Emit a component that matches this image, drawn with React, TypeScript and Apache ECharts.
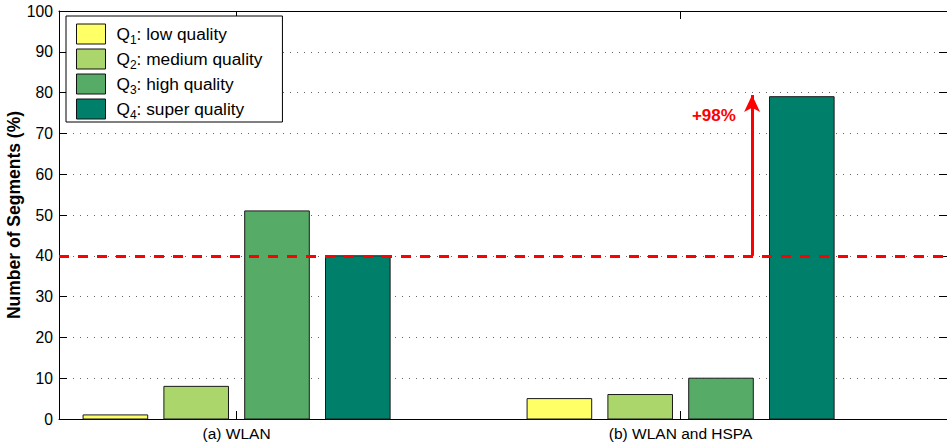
import React, { useEffect, useRef } from "react";
import * as echarts from "echarts";

// ---- data ----
const categories = ["(a) WLAN", "(b) WLAN and HSPA"];
const categoryPos = [1, 2];
const qualityIds = ["1", "2", "3", "4"];
const qualityNames = ["low quality", "medium quality", "high quality", "super quality"];
const q1Values = [1, 5];
const q2Values = [8, 6];
const q3Values = [51, 10];
const q4Values = [40, 79];
const seriesValues = [q1Values, q2Values, q3Values, q4Values];
const yTicks = [0, 10, 20, 30, 40, 50, 60, 70, 80, 90, 100];
const referenceLevel = 40;
const arrowTop = 79.4;
const arrowX = 2.161;
const gainText = "+98%";
const gainLabelPos = [2.075, 74.5];

// ---- styles ----
const colors = ["#FFFF66", "#ABD66B", "#56AB67", "#00806A"];
const FONT = "'Liberation Sans', Arial, sans-serif";
const GROUP_SPACING = 0.182;
const BAR_W = 0.1455;

export default function App() {
  const ref = useRef<HTMLDivElement>(null);
  useEffect(() => {
    if (!ref.current) return;
    const chart = echarts.init(ref.current, null, { renderer: "svg" });
    const names = qualityIds.map((id, i) => `Q${id}: ${qualityNames[i]}`);

    const barSeries = seriesValues.map((vals, si) => ({
      type: "custom",
      name: names[si],
      xAxisIndex: 0,
      yAxisIndex: 0,
      itemStyle: { color: colors[si], borderColor: "#111", borderWidth: 1 },
      encode: { x: 0, y: 1 },
      data: vals.map((v, gi) => [categoryPos[gi], v]),
      renderItem: (params: any, api: any) => {
        const g = api.value(0);
        const v = api.value(1);
        const xc = g + (si - 1.5) * GROUP_SPACING;
        const p0 = api.coord([xc - BAR_W / 2, v]);
        const p1 = api.coord([xc + BAR_W / 2, 0]);
        return {
          type: "rect",
          shape: { x: p0[0], y: p0[1], width: p1[0] - p0[0], height: p1[1] - p0[1] },
          style: { fill: colors[si], stroke: "#1a1a1a", lineWidth: 1 },
        };
      },
    }));

    const option: any = {
      animation: false,
      textStyle: { fontFamily: FONT },
      grid: {
        left: 59,
        right: 0,
        top: 11,
        bottom: 25,
        containLabel: false,
        outerBoundsMode: "none",
      },
      legend: {
        orient: "vertical",
        left: 66,
        top: 16,
        padding: [6, 8, 1, 10],
        backgroundColor: "#fff",
        borderColor: "#000",
        borderWidth: 1,
        itemWidth: 29,
        itemHeight: 20,
        itemGap: 1,
        icon: "rect",
        data: names.map((n, i) => ({
          name: n,
          itemStyle: { color: colors[i], borderColor: "#111", borderWidth: 1 },
        })),
        formatter: (name: string) => {
          const m = name.match(/^Q(\d+): (.*)$/);
          if (!m) return name;
          return `{q|Q}{s|${m[1]}}{n|: ${m[2]}}`;
        },
        textStyle: {
          fontFamily: FONT,
          color: "#000",
          lineHeight: 24,
          rich: {
            q: { fontSize: 17.3, fontFamily: FONT, color: "#000", padding: [0, 0, 0, 6], lineHeight: 24 },
            s: { fontSize: 12, fontFamily: FONT, color: "#000", padding: [12, 0, 0, 0], lineHeight: 12 },
            n: { fontSize: 17.3, fontFamily: FONT, color: "#000", lineHeight: 24, padding: [0, 12, 0, 0] },
          },
        },
      },
      xAxis: [
        {
          type: "value",
          min: 0.6,
          max: 2.6,
          position: "bottom",
          axisLine: { show: true, lineStyle: { color: "#000", width: 1 } },
          axisTick: { show: true, inside: true, length: 8, customValues: categoryPos, lineStyle: { color: "#000" } },
          axisLabel: {
            show: true,
            customValues: categoryPos,
            margin: 6,
            fontSize: 15.5,
            fontFamily: FONT,
            color: "#000",
            formatter: (v: number) => categories[Math.round(v) - 1] ?? "",
          },
          splitLine: { show: false },
        },
        {
          type: "value",
          min: 0.6,
          max: 2.6,
          position: "top",
          axisLine: { show: true, onZero: false, lineStyle: { color: "#000", width: 1 } },
          axisTick: { show: true, inside: true, length: 8, customValues: categoryPos, lineStyle: { color: "#000" } },
          axisLabel: { show: false },
          splitLine: { show: false },
        },
      ],
      yAxis: [
        {
          type: "value",
          min: 0,
          max: 100,
          interval: 10,
          position: "left",
          name: "Number of Segments (%)",
          nameLocation: "middle",
          nameRotate: 90,
          nameGap: 36,
          nameMoveOverlap: false,
          nameTextStyle: { fontFamily: FONT, fontSize: 17.5, fontWeight: "bold", color: "#000" },
          axisLine: { show: true, lineStyle: { color: "#000", width: 1 } },
          axisTick: { show: true, inside: true, length: 8, lineStyle: { color: "#000" } },
          axisLabel: {
            margin: 6,
            fontSize: 15.7,
            fontFamily: FONT,
            color: "#000",
            formatter: (v: number) => (yTicks.includes(v) ? String(v) : ""),
          },
          splitLine: { show: true, lineStyle: { color: "#666", width: 1, type: [1, 6] } },
        },
        {
          type: "value",
          min: 0,
          max: 100,
          interval: 10,
          position: "right",
          axisLine: { show: false },
          axisTick: { show: true, inside: true, length: 8, lineStyle: { color: "#000" } },
          axisLabel: { show: false },
          splitLine: { show: false },
        },
      ],
      series: [
        ...barSeries,
        {
          type: "line",
          name: "annotations",
          xAxisIndex: 0,
          yAxisIndex: 0,
          data: [],
          z: 5,
          markLine: {
            silent: true,
            animation: false,
            symbol: ["none", "none"],
            label: { show: false },
            data: [
              {
                yAxis: referenceLevel,
                lineStyle: { color: "#FF0000", width: 3, type: [10, 9] },
              },
              [
                {
                  coord: [arrowX, referenceLevel],
                  symbol: "none",
                  lineStyle: { color: "#FF0000", width: 3, type: "solid" },
                },
                { coord: [arrowX, arrowTop], symbol: "arrow", symbolSize: [12, 17] },
              ],
            ],
          },
          markPoint: {
            silent: true,
            animation: false,
            data: [
              {
                coord: gainLabelPos,
                symbol: "rect",
                symbolSize: 1,
                itemStyle: { color: "rgba(0,0,0,0)" },
                label: {
                  show: true,
                  position: "inside",
                  formatter: gainText,
                  color: "#FF0000",
                  fontWeight: "bold",
                  fontSize: 17,
                  fontFamily: FONT,
                },
              },
            ],
          },
        },
      ],
    };
    chart.setOption(option);
    return () => chart.dispose();
  }, []);
  return (
    <div
      ref={ref}
      style={{ position: "absolute", left: 0, top: 0, width: 947, height: 444, background: "#fff" }}
    />
  );
}
